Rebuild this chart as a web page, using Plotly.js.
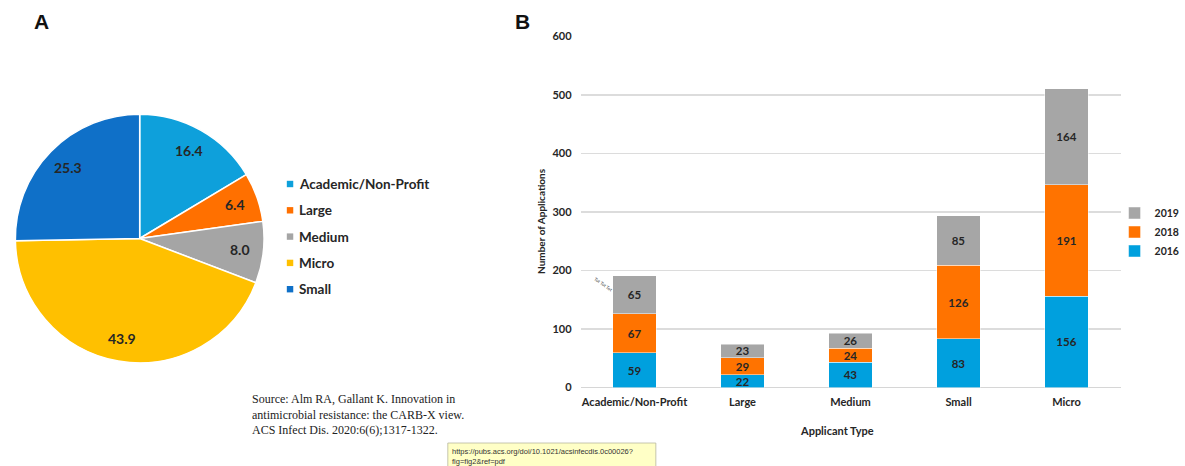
<!DOCTYPE html>
<html><head><meta charset="utf-8">
<script src="https://cdn.plot.ly/plotly-3.0.1.min.js"></script>
<style>html,body{margin:0;padding:0;background:#fff}#chart{width:1185px;height:466px}</style>
</head><body><div id="chart"></div>
<script>
// ---- data ----
const pieLabels = ['Academic/Non-Profit', 'Large', 'Medium', 'Micro', 'Small'];
const pieValues = [16.4, 6.4, 8.0, 43.9, 25.3];
const barCategories = ['Academic/Non-Profit', 'Large', 'Medium', 'Small', 'Micro'];
const apps2016 = [59, 22, 43, 83, 156];
const apps2018 = [67, 29, 24, 126, 191];
const apps2019 = [65, 23, 26, 85, 164];
const yearNames = ['2016', '2018', '2019'];
const yTickVals = [0, 100, 200, 300, 400, 500, 600];
const sourceLines = ['Source: Alm RA, Gallant K. Innovation in', 'antimicrobial resistance: the CARB-X view.', 'ACS Infect Dis. 2020:6(6);1317-1322.'];
const urlLines = ['https://pubs.acs.org/doi/10.1021/acsinfecdis.0c00026?', 'fig=fig2&ref=pdf'];

// ---- style ----
const W = 1185, H = 466;
const px = x => x / W;
const py = y => 1 - y / H;
const pieColors = ['#0ea0db', '#ff7000', '#a5a5a5', '#ffc000', '#0f70c8'];
const yearColors = ['#00a0de', '#ff7300', '#a6a6a6'];
const FONT = 'Lato, "Open Sans", sans-serif';
const dark = '#262626';
const pieBox = {l: 15.5, r: 266.5, t: 113, b: 364};

const traces = [];
traces.push({
  type: 'pie', labels: pieLabels, values: pieValues, sort: false, direction: 'clockwise', rotation: 0,
  marker: {colors: pieColors, line: {color: '#ffffff', width: 1.5}},
  textinfo: 'none',
  domain: {x: [px(pieBox.l), px(pieBox.r)], y: [py(pieBox.b), py(pieBox.t)]},
  showlegend: false, hoverinfo: 'none'
});
const seriesVals = [apps2016, apps2018, apps2019];
seriesVals.forEach((vals, i) => {
  traces.push({
    type: 'bar', name: yearNames[i], x: barCategories, y: vals,
    marker: {color: yearColors[i], line: {color: 'rgba(255,255,255,0.6)', width: 0.8}},
    text: vals.map(String), textposition: 'inside', insidetextanchor: 'middle', constraintext: 'none',
    textfont: {family: FONT, size: 11.5, color: dark, weight: 'bold'},
    xaxis: 'x', yaxis: 'y', hoverinfo: 'none'
  });
});

const annotations = [];
const shapes = [];
// pie value labels placed along each slice bisector (Excel-style)
(function () {
  const cx = (pieBox.l + pieBox.r) / 2, cy = (pieBox.t + pieBox.b) / 2;
  const R = Math.min(pieBox.r - pieBox.l, pieBox.b - pieBox.t) / 2;
  const total = pieValues.reduce((a, b) => a + b, 0);
  let cum = 0;
  pieValues.forEach((v) => {
    const th = 2 * Math.PI * (cum + v / 2) / total;
    cum += v;
    const r = 0.81 * R;
    annotations.push({xref: 'paper', yref: 'paper', x: px(cx + r * Math.sin(th)), y: py(cy - r * Math.cos(th)),
      text: '<b>' + v.toFixed(1) + '</b>', showarrow: false, xanchor: 'center', yanchor: 'middle',
      font: {family: FONT, size: 14, color: dark}});
  });
})();
// panel letters
annotations.push({xref: 'paper', yref: 'paper', x: px(42), y: py(22), text: '<b>A</b>', showarrow: false,
  font: {family: 'Arial, Liberation Sans, sans-serif', size: 21, color: '#111'}, xanchor: 'center', yanchor: 'middle'});
annotations.push({xref: 'paper', yref: 'paper', x: px(527), y: py(22), text: '<b>B</b>', showarrow: false,
  font: {family: 'Arial, Liberation Sans, sans-serif', size: 21, color: '#111'}, xanchor: 'center', yanchor: 'middle'});
// pie legend (manual)
pieLabels.forEach((lab, i) => {
  const cy = 184 + i * 26.3;
  shapes.push({type: 'rect', xref: 'paper', yref: 'paper', x0: px(289.5), x1: px(296), y0: py(cy - 3.2), y1: py(cy + 3.2),
    fillcolor: pieColors[i], line: {width: 0}});
  annotations.push({xref: 'paper', yref: 'paper', x: px(300), y: py(cy), text: '<b>' + lab + '</b>', showarrow: false,
    xanchor: 'left', yanchor: 'middle', font: {family: FONT, size: 13.5, color: dark}});
});
// axis titles
annotations.push({xref: 'paper', yref: 'paper', x: px(546), y: py(221), text: '<b>Number of Applications</b>', showarrow: false,
  textangle: -90, xanchor: 'center', yanchor: 'middle', font: {family: FONT, size: 10, color: dark}});
annotations.push({xref: 'paper', yref: 'paper', x: px(845), y: py(430), text: '<b>Applicant Type</b>', showarrow: false,
  xanchor: 'center', yanchor: 'middle', font: {family: FONT, size: 11, color: dark}});
// small stray label
annotations.push({xref: 'paper', yref: 'paper', x: px(609), y: py(284), text: 'Tot Tot Tot', showarrow: false,
  textangle: 35, xanchor: 'center', yanchor: 'middle', font: {family: FONT, size: 4.5, color: '#444'}});
// source text
sourceLines.forEach((t, i) => {
  annotations.push({xref: 'paper', yref: 'paper', x: px(252), y: py(399 + i * 15.5), text: t, showarrow: false,
    xanchor: 'left', yanchor: 'middle', font: {family: '"Liberation Serif", "Times New Roman", serif', size: 12, color: '#222'}});
});
// url tooltip box
shapes.push({type: 'rect', xref: 'paper', yref: 'paper', x0: px(452), x1: px(662), y0: py(470), y1: py(443),
  fillcolor: '#ffffc6', line: {color: '#b8b8a0', width: 0.8}});
urlLines.forEach((t, i) => {
  annotations.push({xref: 'paper', yref: 'paper', x: px(454), y: py(451 + i * 10), text: t, showarrow: false,
    xanchor: 'left', yanchor: 'middle', font: {family: '"Liberation Sans", Arial, sans-serif', size: 7.5, color: '#333'}});
});

const layout = {
  width: W, height: H, margin: {l: 0, r: 0, t: 0, b: 0}, paper_bgcolor: '#fff', plot_bgcolor: '#fff',
  barmode: 'stack', bargap: 0.6, showlegend: true,
  xaxis: {domain: [px(586), px(1131)], type: 'category', showgrid: false, zeroline: false, showline: false,
    ticks: '', ticklabelstandoff: 6, tickfont: {family: FONT, size: 11, color: dark, weight: 'bold'}, fixedrange: true},
  yaxis: {domain: [py(387.5), py(36.5)], range: [0, 600], tickvals: yTickVals, showgrid: true, gridcolor: '#dcdcdc', gridwidth: 1.6,
    zeroline: true, zerolinecolor: '#d6d6d6', zerolinewidth: 1.6, showline: false, ticks: '', ticklabelstandoff: 8,
    tickfont: {family: FONT, size: 11, color: dark, weight: 'bold'}, fixedrange: true},
  legend: {x: px(1125), y: py(198.5), xanchor: 'left', yanchor: 'top', traceorder: 'reversed', itemwidth: 30,
    font: {family: FONT, size: 10.5, color: dark, weight: 'bold'}, bgcolor: 'rgba(0,0,0,0)'},
  annotations: annotations, shapes: shapes
};
Plotly.newPlot('chart', traces, layout, {staticPlot: true, displayModeBar: false});
</script></body></html>
